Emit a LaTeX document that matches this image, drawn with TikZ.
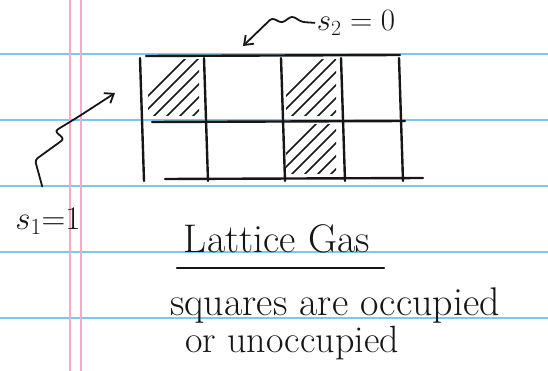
\RequirePackage{fix-cm}
\documentclass[tikz,border=0pt]{standalone}
\usetikzlibrary{arrows.meta}

\definecolor{ruleblue}{RGB}{125,198,236}
\definecolor{marginpink}{RGB}{242,172,200}
\definecolor{ink}{RGB}{22,22,22}

\begin{document}
\begin{tikzpicture}[x=1pt, y=-1pt,
    paperline/.style={ruleblue, line width=1.6pt},
    marginline/.style={marginpink, line width=1.2pt},
    gridline/.style={ink, line width=2.4pt, line cap=round},
    hatch/.style={ink, line width=1.7pt, line cap=round},
    squiggle/.style={ink, line width=1.8pt, line cap=round, line join=round,
        rounded corners=3pt, -{Straight Barb[length=8pt, width=12pt]}},
    handtext/.style={ink, inner sep=0pt}]

    % Page size
    \useasboundingbox (0,0) rectangle (548,371);

    % Notebook paper: ruled lines and the double margin line
    \foreach \y in {54,120,186,252,318}
        \draw[paperline] (0,\y) -- (548,\y);
    \foreach \x in {70,81}
        \draw[marginline] (\x,0) -- (\x,371);

    % Shaded (occupied) squares
    \foreach \a/\b/\c/\d in {143/56/204/121, 281/56/341/121, 281/121/341/179} {
        \begin{scope}
            \clip (\a+5,\b+4) rectangle (\c-5,\d-5);
            \foreach \k in {0,...,8}
                \draw[hatch] (\a-20+\k*13,\d) -- ++(75,-75);
        \end{scope}
    }

    % The lattice
    \draw[gridline] (146,56) -- (400,55);
    \draw[gridline] (152,122) -- (405,121);
    \draw[gridline] (165,179) -- (423,178);
    \foreach \x in {140,204,281,341,399}
        \draw[gridline] (\x,58) -- (\x+4,181);

    % Labels for two of the sites
    \node[handtext, font=\fontsize{31}{36}\selectfont] (s2) at (356,23) {$s_2=0$};
    \node[handtext, font=\fontsize{33}{38}\selectfont] (s1) at (48,221) {$s_1{=}1$};
    \coordinate (s2tip) at (243,46);
    \coordinate (s1tip) at (115,93);

    \draw[squiggle, shorten <=2pt]
        (s2.west) -- (302,22) -- (292,16) -- (282,23) -- (272,18) -- (s2tip);
    \draw[squiggle, shorten <=22pt]
        (s1.north) -- (35,160) -- (64,139) -- (55,131) -- (78,117) -- (s1tip);

    % Title and caption
    \node[handtext, anchor=base, font=\fontsize{40}{48}\selectfont] (title) at (277,252) {Lattice Gas};
    \draw[ink, line width=1.8pt, line cap=round]
        ([shift={(-7,16)}]title.base west) -- ([shift={(14,16)}]title.base east);

    \node[handtext, anchor=base west, font=\fontsize{40}{48}\selectfont]
        (line1) at (170,315) {squares are occupied};
    \node[handtext, anchor=base west, font=\fontsize{38}{46}\selectfont]
        (line2) at (185,352) {or unoccupied};
\end{tikzpicture}
\end{document}
